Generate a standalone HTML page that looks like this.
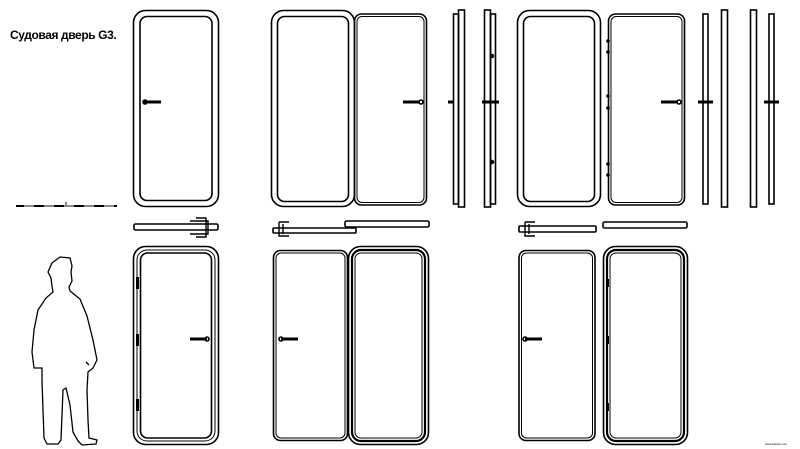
<!DOCTYPE html>
<html><head><meta charset="utf-8"><style>
html,body{margin:0;padding:0;background:#fff;width:800px;height:449px;overflow:hidden}
svg{display:block}
</style></head><body>
<svg width="800" height="449" viewBox="0 0 800 449" xmlns="http://www.w3.org/2000/svg" fill="none" stroke="#000" stroke-width="1.6">
<text x="10" y="39" font-family="Liberation Sans, sans-serif" font-weight="bold" font-size="12" fill="#000" stroke="none" letter-spacing="-0.4">Судовая дверь G3.</text>
<!-- scale bar -->
<line x1="16" y1="206" x2="117" y2="206" stroke-width="2"/>
<g stroke="#888" stroke-width="2"><line x1="24" y1="206" x2="34" y2="206"/><line x1="44" y1="206" x2="54" y2="206"/><line x1="64" y1="206" x2="74" y2="206"/><line x1="84" y1="206" x2="94" y2="206"/><line x1="104" y1="206" x2="114" y2="206"/></g>
<line x1="66" y1="202" x2="66" y2="205" stroke-width="1"/>

<!-- Door A -->
<rect x="133.5" y="10.5" width="85" height="196" rx="12"/>
<rect x="140" y="16.5" width="72" height="184" rx="7"/>
<path d="M144 102 h17" stroke-width="3"/><circle cx="145" cy="102" r="2"/>
<rect x="134" y="224" width="84" height="6" rx="1.5"/>
<path d="M190 221 h18 v13 h-18 M196 218 h10 v19 h-10" stroke-width="1.4"/>

<!-- Door B -->
<rect x="271.5" y="10.5" width="83" height="196" rx="12"/>
<rect x="277.5" y="16.5" width="71" height="185" rx="7"/>
<rect x="354.5" y="14" width="72" height="191" rx="7"/>
<rect x="357" y="16.5" width="67" height="186" rx="5" stroke-width="1"/>
<path d="M403 102 h17" stroke-width="3"/><circle cx="421" cy="102" r="2"/>
<rect x="453.5" y="14" width="5" height="190"/>
<rect x="458.5" y="10" width="6" height="197"/>
<path d="M448 102 h5" stroke-width="3"/>
<rect x="484.5" y="10" width="6" height="197"/>
<rect x="490.5" y="14" width="5" height="190"/>
<path d="M482 102 h17" stroke-width="3"/>
<circle cx="492" cy="56" r="1.5" fill="#000"/><circle cx="492" cy="162" r="1.5" fill="#000"/>
<rect x="273" y="228" width="83" height="5" rx="1"/>
<rect x="345" y="221" width="84" height="6" rx="1.5"/>
<path d="M279 222 h10 M279 222 v14 h10 M283 224 v10" stroke-width="1.4"/>

<!-- Door C -->
<rect x="517.5" y="10.5" width="83" height="196" rx="12"/>
<rect x="523.5" y="16.5" width="71" height="185" rx="7"/>
<rect x="608.5" y="14" width="76" height="191" rx="7"/>
<rect x="611" y="16.5" width="71" height="186" rx="5" stroke-width="1"/>
<path d="M661 102 h17" stroke-width="3"/><circle cx="679" cy="102" r="2"/>
<g fill="#000" stroke="none"><circle cx="608" cy="41" r="1.8"/><circle cx="608" cy="52" r="1.8"/><circle cx="608" cy="96" r="1.8"/><circle cx="608" cy="108" r="1.8"/><circle cx="608" cy="164" r="1.8"/><circle cx="608" cy="175" r="1.8"/></g>
<rect x="703" y="14" width="5" height="190"/>
<path d="M698 102 h15" stroke-width="3"/>
<rect x="721.5" y="10" width="6" height="197"/>
<rect x="750.5" y="10" width="6" height="197"/>
<rect x="769" y="14" width="5" height="190"/>
<path d="M764 102 h15" stroke-width="3"/>
<rect x="519" y="226" width="77" height="6" rx="1"/>
<rect x="603" y="222" width="84" height="6" rx="1.5"/>
<path d="M525 222 h10 M525 222 v14 h10 M529 224 v10" stroke-width="1.4"/>

<!-- Person -->
<path d="M52 263 L60 257 L70 258 L72 266 L71 272 L72 281 L69 287 L70 291 L80 299 L87 316 L93 340 L97 360 L93 368 L88 372 L87 390 L88 420 L89 438 L97 440 L96 444 L82 445 L78 441 L73 432 L70 405 L66 388 L63 390 L62 415 L61 440 L58 444 L47 444 L44 438 L43 410 L42 380 L42 368 L34 368 L32 352 L34 330 L38 310 L46 298 L53 292 L52 286 L51 278 L48 272 Z" stroke-width="1.3"/>
<path d="M86 362 L89 365" stroke-width="1.3"/>

<!-- Door D -->
<rect x="133.5" y="246.5" width="85" height="198" rx="12"/>
<rect x="137" y="250" width="78" height="191" rx="10" stroke-width="1"/>
<rect x="140.5" y="253" width="71" height="185" rx="7"/>
<path d="M190 339 h17" stroke-width="3"/><circle cx="207" cy="339" r="2"/>
<g fill="#000" stroke="none"><rect x="136" y="277" width="3" height="12"/><rect x="136" y="334" width="3" height="12"/><rect x="136" y="399" width="3" height="12"/></g>

<!-- Door E -->
<rect x="273.5" y="250.5" width="74" height="190" rx="7"/>
<rect x="276" y="253" width="69" height="185" rx="5" stroke-width="1"/>
<path d="M281 339 h17" stroke-width="3"/><circle cx="281" cy="339" r="2"/>
<rect x="348.5" y="246.5" width="80" height="198" rx="12"/>
<rect x="352" y="250" width="73" height="191" rx="9" stroke-width="2.2"/>
<rect x="355" y="253" width="67" height="185" rx="6" stroke-width="1"/>

<!-- Door F -->
<rect x="519" y="250.5" width="76" height="190" rx="7"/>
<rect x="521.5" y="253" width="71" height="185" rx="5" stroke-width="1"/>
<path d="M525 339 h17" stroke-width="3"/><circle cx="525" cy="339" r="2"/>
<rect x="603.5" y="246.5" width="84" height="198" rx="12"/>
<rect x="607" y="250" width="77" height="191" rx="9" stroke-width="2.2"/>
<rect x="610" y="253" width="71" height="185" rx="6" stroke-width="1"/>
<g fill="#000" stroke="none"><rect x="606" y="279" width="3" height="8"/><rect x="606" y="336" width="3" height="8"/><rect x="606" y="403" width="3" height="8"/></g>

<text x="765" y="445" font-family="Liberation Sans, sans-serif" font-size="3" fill="#000" stroke="none">www.blocks.com</text>
</svg>
</body></html>
